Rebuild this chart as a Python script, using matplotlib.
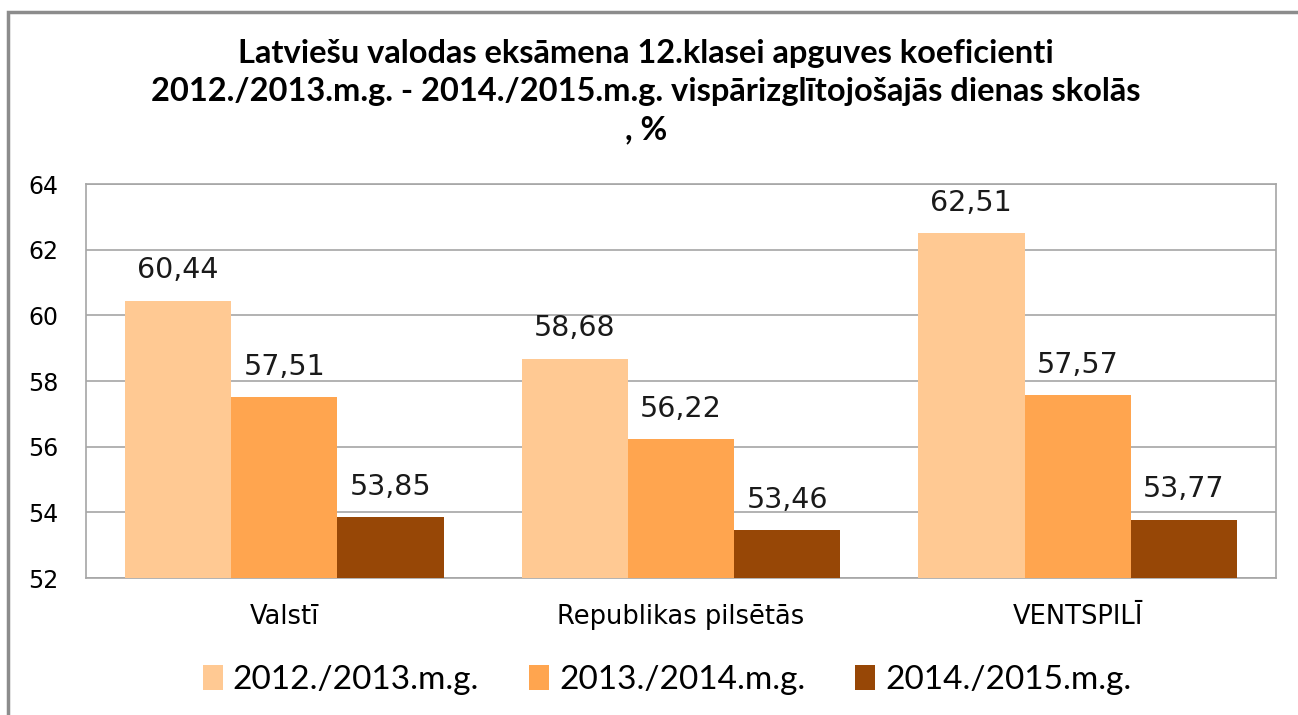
import matplotlib
matplotlib.use("Agg")
import matplotlib.pyplot as plt
import numpy as np
from matplotlib.patches import Rectangle

categories = ["Valstī", "Republikas pilsētās", "VENTSPILĪ"]
series_names = ["2012./2013.m.g.", "2013./2014.m.g.", "2014./2015.m.g."]
values_2012 = [60.44, 58.68, 62.51]
values_2013 = [57.51, 56.22, 57.57]
values_2014 = [53.85, 53.46, 53.77]
yticks = [52, 54, 56, 58, 60, 62, 64]
title = ("Latviešu valodas eksāmena 12.klasei apguves koeficienti\n"
         "2012./2013.m.g. - 2014./2015.m.g. vispārizglītojošajās dienas skolās\n, %")

colors = ["#FFC993", "#FFA54F", "#974706"]
series = [values_2012, values_2013, values_2014]

W, H = 1298, 715
fig = plt.figure(figsize=(W / 100, H / 100), dpi=100)
fig.patches.append(Rectangle((8 / W, -0.1), 1.2, (H - 12) / H + 0.1, transform=fig.transFigure,
                             fill=False, edgecolor="#8C8C8C", linewidth=2.5))

ax = fig.add_axes([86 / W, (H - 578) / H, (1276 - 86) / W, (578 - 184) / H])
x = np.arange(len(categories))
bw = 0.268
for i, (vals, c, name) in enumerate(zip(series, colors, series_names)):
    pos = x + (i - 1) * bw
    ax.bar(pos, np.array(vals) - 52, bottom=52, width=bw, color=c, label=name, zorder=3)
    for p, v in zip(pos, vals):
        ax.text(p, v + 0.5, f"{v:.2f}".replace(".", ","), ha="center", va="bottom",
                fontsize=20.5, color="#1a1a1a", family="DejaVu Sans")

ax.set_ylim(52, 64)
ax.set_xlim(-0.5, 2.5)
ax.set_yticks(yticks)
ax.set_yticklabels([str(t) for t in yticks], fontsize=17, family="DejaVu Sans")
ax.set_xticks(x)
ax.set_xticklabels(categories, fontsize=18.5, family="DejaVu Sans")
ax.tick_params(axis="y", length=0, pad=20)
ax.tick_params(axis="x", length=0, pad=19)
ax.yaxis.grid(True, color="#A6A6A6", linewidth=1.2, zorder=0)
for s in ax.spines.values():
    s.set_color("#A6A6A6")
    s.set_linewidth(1.2)

fig.text(646 / W, (H - 92) / H, title, ha="center", va="center", fontsize=23.5,
         fontweight="bold", family="Lato", linespacing=1.38)

fig.legend(loc="center", bbox_to_anchor=(667 / W, (H - 680) / H), ncol=3, frameon=False,
           handlelength=0.6, handleheight=0.75, columnspacing=1.5,
           handletextpad=0.3, prop={"family": "Lato", "size": 24})
fig.savefig("out.png", dpi=100)
